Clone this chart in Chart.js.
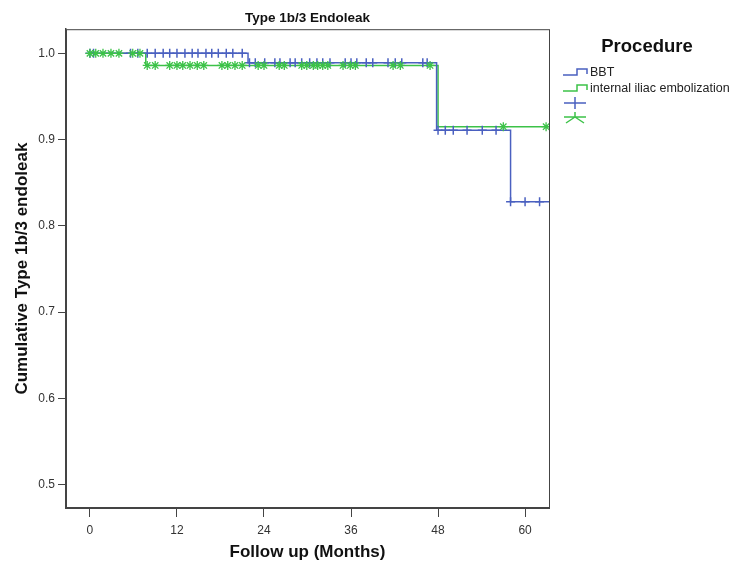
<!DOCTYPE html>
<html>
<head>
<meta charset="utf-8">
<script src="https://cdn.jsdelivr.net/npm/chart.js@4.4.1/dist/chart.umd.min.js"></script>
<style>
  html, body { margin: 0; padding: 0; background: #fff; }
  #wrap { width: 734px; height: 568px; position: relative; }
</style>
</head>
<body>
<div id="wrap"><canvas id="km"></canvas></div>
<script>
// step curves: time of each level change and the level reached
const bbtTimes = [0, 21.8, 47.8, 58.0, 63.3];
const bbtLevels = [1.0, 0.989, 0.911, 0.828, 0.828];
const iieTimes = [0, 7.7, 48.0, 63.3];
const iieLevels = [1.0, 0.986, 0.915, 0.915];

// censored cases (months)
const bbtCensored = [0, 0.5, 5.6, 6.6, 7.9, 9.0, 10.1, 11.0, 12.0, 13.1, 14.1, 14.9, 16.0, 16.8, 17.7, 18.8, 19.7, 21.0,
  22.0, 22.8, 24.1, 25.5, 26.2, 27.6, 28.3, 29.2, 30.3, 31.3, 32.1, 33.1, 35.2, 36.0, 36.8, 38.1, 39.0, 41.1, 42.1, 43.0, 45.9, 46.5,
  48.0, 49.0, 50.1, 52.0, 54.1, 56.0, 58.0, 60.0, 62.0];
const iieCensored = [0, 0.8, 1.8, 2.9, 4.0, 5.9, 6.9,
  7.9, 9.0, 11.0, 12.0, 12.8, 13.8, 14.8, 15.7, 18.2, 19.0, 20.0, 21.0, 23.2, 24.0, 26.1, 26.8, 29.2, 29.9, 30.8, 31.4, 32.1, 32.8,
  34.9, 35.9, 36.6, 41.8, 42.8, 46.9, 57.0, 62.9];

const xTicks = [0, 12, 24, 36, 48, 60];
const yTicks = [0.5, 0.6, 0.7, 0.8, 0.9, 1.0];

const BLUE = '#4a60c0';
const GREEN = '#3cc248';
const FAMILY = '"Liberation Sans", Arial, sans-serif';

function levelAt(times, levels, t) {
  let v = levels[0];
  for (let i = 0; i < times.length; i++) {
    if (times[i] <= t) v = levels[i];
  }
  return v;
}

const curve = (times, levels) => times.map((t, i) => ({ x: t, y: levels[i] }));
const marks = (cens, times, levels) => cens.map(t => ({ x: t, y: levelAt(times, levels, t) }));

const frame = {
  id: 'frame',
  afterDraw(chart) {
    const { ctx, chartArea: a } = chart;
    ctx.save();
    ctx.strokeStyle = '#444';
    ctx.lineWidth = 1;
    ctx.strokeRect(a.left + 0.5, a.top + 0.5, a.right - a.left, a.bottom - a.top);

    // legend
    ctx.fillStyle = '#111';
    ctx.font = 'bold 18.5px ' + FAMILY;
    ctx.textAlign = 'center';
    ctx.textBaseline = 'middle';
    ctx.fillText('Procedure', 647, 47);

    const items = [['BBT', BLUE], ['internal iliac embolization', GREEN]];
    ctx.font = '12.5px ' + FAMILY;
    ctx.textAlign = 'left';
    items.forEach(([label, col], i) => {
      const y = 72 + i * 16;
      ctx.strokeStyle = col;
      ctx.lineWidth = 1.5;
      ctx.beginPath();
      ctx.moveTo(563, y + 3);
      ctx.lineTo(577, y + 3);
      ctx.lineTo(577, y - 3);
      ctx.lineTo(587, y - 3);
      ctx.lineTo(587, y + 2);
      ctx.stroke();
      ctx.fillStyle = '#222';
      ctx.fillText(label, 590, y + 1);
    });
    // censor symbols
    ctx.strokeStyle = BLUE;
    ctx.lineWidth = 1.5;
    ctx.beginPath();
    ctx.moveTo(564, 103); ctx.lineTo(586, 103);
    ctx.moveTo(575, 97); ctx.lineTo(575, 109);
    ctx.stroke();
    ctx.strokeStyle = GREEN;
    ctx.beginPath();
    ctx.moveTo(564, 117); ctx.lineTo(586, 117);
    ctx.moveTo(575, 117); ctx.lineTo(575, 112);
    ctx.moveTo(575, 117); ctx.lineTo(566, 123);
    ctx.moveTo(575, 117); ctx.lineTo(584, 123);
    ctx.stroke();
    ctx.restore();
  }
};

const tickFont = { family: FAMILY, size: 12 };
const axisTitleFont = { family: FAMILY, size: 17, weight: 'bold' };

new Chart(document.getElementById('km'), {
  type: 'scatter',
  data: {
    datasets: [
      { label: 'BBT', data: curve(bbtTimes, bbtLevels), showLine: true, stepped: true,
        borderColor: BLUE, borderWidth: 1.5, pointRadius: 0, order: 3 },
      { label: 'internal iliac embolization', data: curve(iieTimes, iieLevels), showLine: true, stepped: true,
        borderColor: GREEN, borderWidth: 1.5, pointRadius: 0, order: 4 },
      { label: 'BBT censored', data: marks(bbtCensored, bbtTimes, bbtLevels), pointStyle: 'cross',
        pointRadius: 4.5, borderColor: BLUE, borderWidth: 1.5, order: 2 },
      { label: 'IIE censored', data: marks(iieCensored, iieTimes, iieLevels), pointStyle: 'star',
        pointRadius: 4.5, borderColor: GREEN, backgroundColor: GREEN, borderWidth: 1.3, order: 1 }
    ]
  },
  options: {
    responsive: true,
    maintainAspectRatio: false,
    animation: false,
    layout: { padding: { left: 8, right: 185, top: 8, bottom: 1 } },
    plugins: {
      legend: { display: false },
      tooltip: { enabled: false },
      title: {
        display: true, text: 'Type 1b/3 Endoleak', color: '#111', fullSize: false,
        font: { family: FAMILY, size: 13.5, weight: 'bold' }, padding: { top: 2, bottom: 3 }
      }
    },
    scales: {
      x: {
        type: 'linear', min: -3.3, max: 63.3,
        afterBuildTicks: s => { s.ticks = xTicks.map(v => ({ value: v })); },
        afterFit: s => { s.height = 59; },
        ticks: { color: '#333', font: tickFont, padding: 6, maxRotation: 0 },
        grid: { drawOnChartArea: false, drawTicks: true, tickLength: 9, color: '#444' },
        border: { display: true, color: '#444', width: 1.5 },
        title: { display: true, text: 'Follow up (Months)', color: '#111', font: axisTitleFont, padding: { top: 7 } }
      },
      y: {
        type: 'linear', min: 0.473, max: 1.028,
        afterBuildTicks: s => { s.ticks = yTicks.map(v => ({ value: v })); },
        afterFit: s => { s.width = 58; },
        ticks: { color: '#333', font: tickFont, padding: 3, callback: v => v.toFixed(1) },
        grid: { drawOnChartArea: false, drawTicks: true, tickLength: 8, color: '#444' },
        border: { display: true, color: '#444', width: 1.5 },
        title: { display: true, text: 'Cumulative Type 1b/3 endoleak', color: '#111', font: axisTitleFont, padding: { bottom: 2 } }
      }
    }
  },
  plugins: [frame]
});
</script>
</body>
</html>
